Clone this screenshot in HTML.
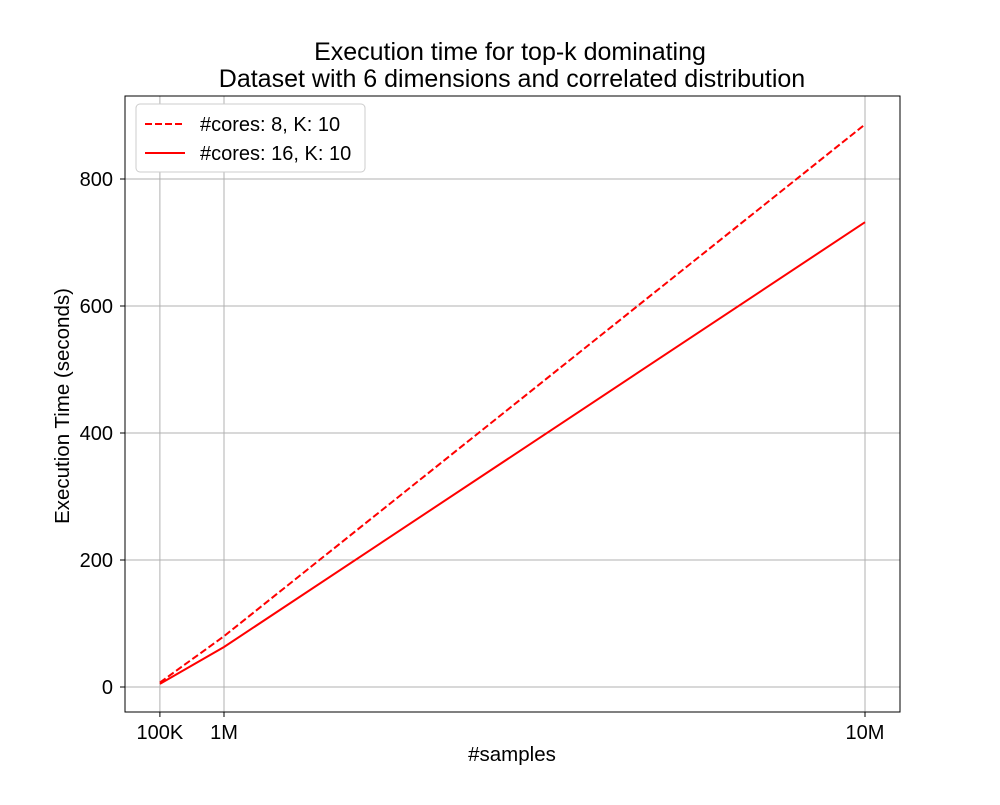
<!DOCTYPE html>
<html><head><meta charset="utf-8"><style>
body{margin:0;background:#fff;font-family:"Liberation Sans",sans-serif;}
svg text{font-family:"Liberation Sans",sans-serif;fill:#000;}
</style></head><body>
<svg width="1000" height="800" xmlns="http://www.w3.org/2000/svg">
<rect width="1000" height="800" fill="#fff"/>
<text x="510" y="60" font-size="25" text-anchor="middle">Execution time for top-k dominating</text>
<text x="512" y="87" font-size="25" text-anchor="middle">Dataset with 6 dimensions and correlated distribution</text>
<g id="grid"></g>
<g id="series"></g>
<rect x="125" y="96" width="775" height="616" fill="none" stroke="#000" stroke-width="1"/>
<g id="ticks"></g>
<text x="512" y="761" font-size="20.5" text-anchor="middle">#samples</text>
<text transform="translate(69,406) rotate(-90)" font-size="20.5" text-anchor="middle">Execution Time (seconds)</text>
<g>
<rect x="136" y="104" width="229" height="68" rx="4" fill="#fff" stroke="#ccc"/>
<line x1="145" y1="124" x2="185" y2="124" stroke="red" stroke-width="2" stroke-dasharray="7,3"/>
<text x="200" y="131" font-size="20">#cores: 8, K: 10</text>
<line x1="145" y1="153" x2="185" y2="153" stroke="red" stroke-width="2"/>
<text x="200" y="160" font-size="20">#cores: 16, K: 10</text>
</g>
</svg>
<script>
const samples=[0.1,1,10];
const xTickLabels=["100K","1M","10M"];
const cores8=[7,80,886];
const cores16=[5,63,732];
const yTicks=[0,200,400,600,800];
const NS="http://www.w3.org/2000/svg";
function X(v){return 224+(v-1)*(865-224)/9;}
function Y(v){return 687-v*(687-179)/800;}
function mk(tag,attrs,parent){const e=document.createElementNS(NS,tag);for(const k in attrs)e.setAttribute(k,attrs[k]);document.getElementById(parent).appendChild(e);return e;}
samples.forEach((s,i)=>{
 const g=mk('line',{x1:X(s),x2:X(s),y1:96,y2:712,stroke:'#b0b0b0','stroke-width':1},'grid');
 
 
 const t=mk('line',{x1:X(s),x2:X(s),y1:712,y2:717,stroke:'#000'},'ticks');
 
 
 const l=mk('text',{x:X(s),y:739,'font-size':20,'text-anchor':'middle'},'ticks');l.textContent=xTickLabels[i];
 
 
});
yTicks.forEach(v=>{
 const g=mk('line',{x1:125,x2:900,y1:Y(v),y2:Y(v),stroke:'#b0b0b0','stroke-width':1},'grid');
 
 
 const t=mk('line',{x1:120,x2:125,y1:Y(v),y2:Y(v),stroke:'#000'},'ticks');
 
 
 const l=mk('text',{x:113,y:Y(v)+7,'font-size':20,'text-anchor':'end'},'ticks');l.textContent=v;
 
 
});
function pts(arr){return samples.map((s,i)=>X(s)+','+Y(arr[i])).join(' ');}
const a=mk('polyline',{points:pts(cores8),fill:'none',stroke:'red','stroke-width':2,'stroke-dasharray':'7,3'},'series');


const b=mk('polyline',{points:pts(cores16),fill:'none',stroke:'red','stroke-width':2},'series');


</script>
</body></html>
